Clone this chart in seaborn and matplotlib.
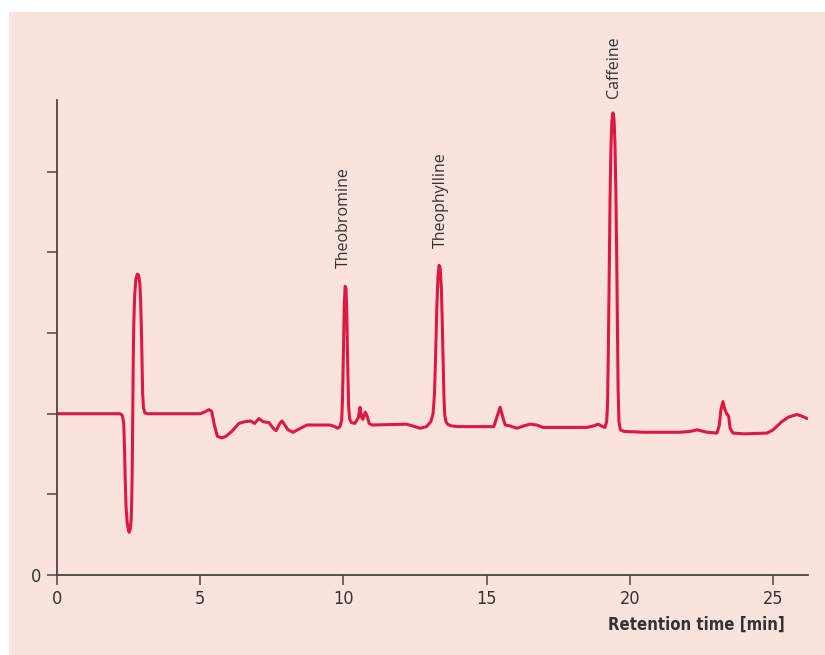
import pandas as pd
import matplotlib.pyplot as plt
import seaborn as sns
from matplotlib.patches import Rectangle

# chromatogram trace (retention time in min, detector signal)
time_min = [
    0.0, 1.0, 2.0, 2.20, 2.28, 2.33, 2.36, 2.38, 2.41, 2.45, 2.49, 2.52, 2.56, 2.59,
    2.61, 2.63, 2.645, 2.66, 2.68, 2.71, 2.75, 2.80, 2.85, 2.89, 2.92, 2.95, 2.97,
    2.99, 3.02, 3.07, 3.15,
    4.5, 5.0, 5.15, 5.3, 5.4, 5.5, 5.6, 5.75, 5.9, 6.1, 6.35, 6.55, 6.75, 6.9, 7.05,
    7.2, 7.4, 7.55, 7.65, 7.78, 7.86, 7.97, 8.07, 8.24, 8.45, 8.73, 9.0, 9.53, 9.7,
    9.8, 9.88, 9.94, 9.97, 10.0, 10.03, 10.06, 10.09, 10.12, 10.15, 10.18, 10.22,
    10.28, 10.4, 10.52, 10.58, 10.63, 10.68, 10.76, 10.82, 10.9, 11.0, 12.2, 12.4,
    12.68, 12.9, 13.05, 13.13, 13.18, 13.22, 13.26, 13.30, 13.34, 13.38, 13.42, 13.45,
    13.48, 13.51, 13.54, 13.58, 13.64, 13.75, 14.0, 15.25, 15.35, 15.47, 15.57, 15.65,
    15.8, 16.06, 16.3, 16.52, 16.75, 16.97, 18.5, 18.75, 18.89, 19.0, 19.13, 19.19,
    19.22, 19.25, 19.28, 19.31, 19.34, 19.37, 19.41, 19.45, 19.48, 19.51, 19.54, 19.57,
    19.59, 19.62, 19.67, 19.8, 20.5, 21.75, 22.1, 22.35, 22.7, 23.04, 23.12, 23.18,
    23.25, 23.32, 23.38, 23.45, 23.5, 23.6, 24.0, 24.79, 25.0, 25.3, 25.55, 25.84,
    26.0, 26.19,
]
signal = [
    2.0, 2.0, 2.0, 2.0, 1.98, 1.88, 1.55, 1.2, 0.85, 0.65, 0.56, 0.53, 0.57, 0.7,
    0.95, 1.4, 2.0, 2.6, 3.1, 3.45, 3.66, 3.73, 3.72, 3.62, 3.4, 3.0, 2.6,
    2.25, 2.07, 2.01, 2.0,
    2.0, 2.0, 2.02, 2.05, 2.03, 1.85, 1.72, 1.70, 1.72, 1.78, 1.88, 1.90, 1.91, 1.88, 1.94,
    1.90, 1.89, 1.82, 1.79, 1.88, 1.91, 1.85, 1.80, 1.77, 1.81, 1.86, 1.86, 1.86, 1.84,
    1.82, 1.84, 1.92, 2.2, 2.8, 3.35, 3.58, 3.55, 3.2, 2.6, 2.1, 1.93,
    1.89, 1.88, 1.95, 2.08, 1.96, 1.93, 2.02, 1.98, 1.88, 1.86, 1.87, 1.85,
    1.82, 1.84, 1.9, 2.0, 2.25, 2.75, 3.3, 3.7, 3.84, 3.8, 3.55, 3.15,
    2.65, 2.2, 1.98, 1.9, 1.87, 1.85, 1.84, 1.84, 1.95, 2.08, 1.95, 1.86,
    1.85, 1.82, 1.85, 1.87, 1.86, 1.83, 1.83, 1.85, 1.87, 1.85, 1.83, 1.9,
    2.1, 2.8, 3.8, 4.7, 5.3, 5.62, 5.73, 5.65, 5.35, 4.8, 4.0, 3.0,
    2.3, 1.9, 1.80, 1.78, 1.77, 1.77, 1.78, 1.80, 1.77, 1.76, 1.85, 2.05,
    2.15, 2.05, 2.0, 1.97, 1.82, 1.76, 1.75, 1.76, 1.8, 1.9, 1.96, 1.99,
    1.97, 1.94,
]

peak_names = ["Theobromine", "Theophylline", "Caffeine"]
label_time = [10.02, 13.41, 19.45]
label_level = [3.81, 4.06, 5.92]

x_ticks = [0, 5, 10, 15, 20, 25]
y_ticks = [0, 1, 2, 3, 4, 5]

pink = "#FAE2DD"
red = "#DE1840"
axis_col = "#4A4443"

df = pd.DataFrame({"t": time_min, "signal": signal})

sns.set_style("ticks")
plt.rcParams["font.family"] = ["DejaVu Sans"]
plt.rcParams["font.stretch"] = "condensed"

fig = plt.figure(figsize=(8.25, 6.55), dpi=100)
fig.patch.set_facecolor("white")
fig.patches.append(Rectangle((9 / 825, 0), 1, 1 - 12 / 655, transform=fig.transFigure,
                             facecolor=pink, edgecolor="none", zorder=-5))

ax = fig.add_axes([57 / 825, 80 / 655, 751 / 825, 475 / 655])
ax.set_facecolor("none")
ax.set_zorder(2)

sns.lineplot(data=df, x="t", y="signal", ax=ax, color=red, linewidth=2.2,
             estimator=None, sort=False)

ax.set_xlim(0, 26.22)
ax.set_ylim(0, 5.89)
ax.set_xticks(x_ticks)
ax.set_xticklabels([str(v) for v in x_ticks])
ax.set_yticks(y_ticks)
ax.set_yticklabels(["0"] + [""] * (len(y_ticks) - 1))

sns.despine(ax=ax)
for side in ["left", "bottom"]:
    ax.spines[side].set_color(axis_col)
    ax.spines[side].set_linewidth(1.3)
ax.tick_params(axis="both", direction="out", length=7, width=1.1, color=axis_col,
               labelsize=13, labelcolor="#333333")
ax.tick_params(axis="x", pad=4)
ax.tick_params(axis="y", pad=4)

ax.set_ylabel("")
ax.set_xlabel("Retention time [min]", fontsize=12, fontweight="bold", color="#333333")
ax.xaxis.set_label_coords(0.969, -0.085)
ax.xaxis.label.set_horizontalalignment("right")

for name, t, lvl in zip(peak_names, label_time, label_level):
    ax.text(t, lvl, name, rotation=90, ha="center", va="bottom", fontsize=11.5,
            color="#333333", family=["Open Sans", "DejaVu Sans"], fontstretch="normal",
            clip_on=False)

plt.savefig("out.png", dpi=100, facecolor=fig.get_facecolor())
